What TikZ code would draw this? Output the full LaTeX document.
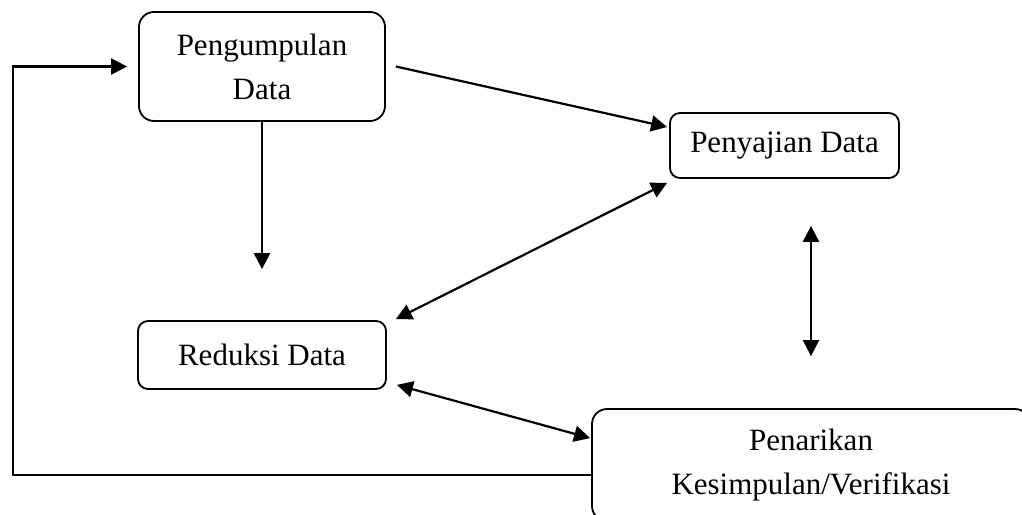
\documentclass[tikz,border=0pt]{standalone}
\usepackage{fontspec}
\setmainfont{Liberation Serif}
\usetikzlibrary{arrows.meta,calc}
\tikzset{
  box/.style={draw, line width=0.9pt, align=center, inner sep=0pt,
    font=\fontsize{15.5}{22}\selectfont},
  tip/.style={Triangle[length=8pt,width=8pt]},
  arr/.style={line width=1.1pt, -{Triangle[length=8pt,width=8pt]}},
  darr/.style={line width=1.1pt, {Triangle[length=8pt,width=8pt]}-{Triangle[length=8pt,width=8pt]}}
}
\begin{document}
\begin{tikzpicture}[x=0.5pt,y=-0.5pt]
\useasboundingbox (0,0) rectangle (1022,514);
\clip (0,0) rectangle (1022,514);
\node[box, rounded corners=7.5pt, minimum width=123pt, minimum height=54.5pt] (pd) at (262,66.5) {Pengumpulan\\Data};
\node[box, rounded corners=5pt, minimum width=114.5pt, minimum height=32.5pt] (pj) at (784.5,145.5) {Penyajian Data};
\node[box, rounded corners=5pt, minimum width=124pt, minimum height=34pt] (rd) at (262,355) {Reduksi Data};
\node[box, rounded corners=7.5pt, minimum width=219pt, minimum height=56pt] (pk) at (811,465) {Penarikan\\Kesimpulan/Verifikasi};
\coordinate (lp) at (13,66.5);
\draw[arr, shorten >=25.5pt] (pd.south) -- (rd.north);
\draw[arr] ([xshift=5pt]pd.east) -- ([shift={(-1pt,9.25pt)}]pj.west);
\draw[darr] ([shift={(4.5pt,0.5pt)}]rd.north east) -- ([shift={(-1pt,-2pt)}]pj.south west);
\draw[darr] ([shift={(5pt,2.5pt)}]rd.south east) -- ([shift={(-0.5pt,-15pt)}]pk.north west);
\draw[darr] ($(pj.south -| pk.north)+(0,-23.5pt)$) -- ($(pk.north)+(0,26pt)$);
\draw[arr] ([yshift=-5pt]pk.west) -| (lp) -- ([xshift=-5.5pt]pd.west);
\end{tikzpicture}
\end{document}
